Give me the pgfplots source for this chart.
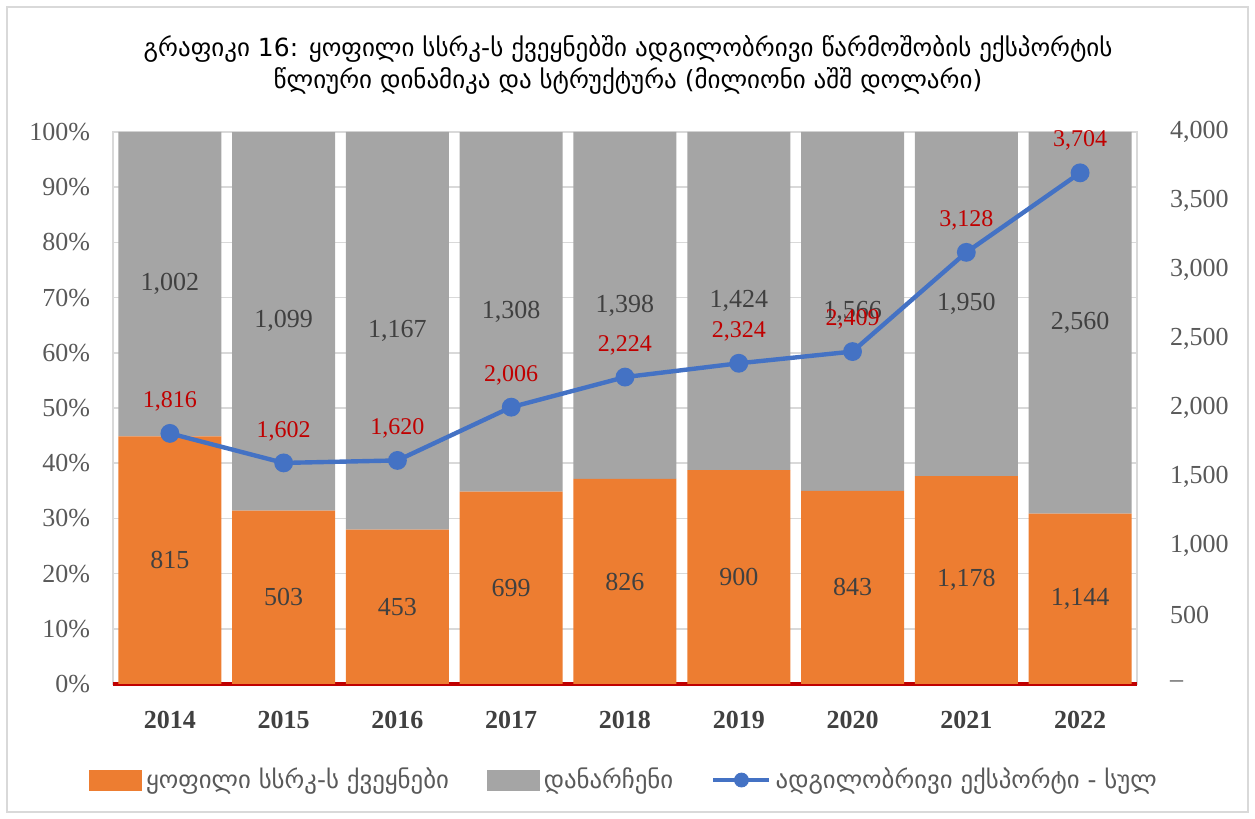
\documentclass[border=0pt]{standalone}
\usepackage{pgfplots}
\pgfplotsset{compat=1.18}
\usepackage{pgfplotstable}
\usepackage{fontspec}
\setmainfont{Liberation Serif}
\newfontfamily\geo{DejaVu Sans}
\definecolor{cOrange}{HTML}{ED7D31}
\definecolor{cGray}{HTML}{A5A5A5}
\definecolor{cBlue}{HTML}{4472C4}
\definecolor{cRed}{HTML}{C00000}
\definecolor{cTxt}{HTML}{595959}
\definecolor{cLbl}{HTML}{404040}
\definecolor{cGrid}{HTML}{D9D9D9}
\pgfplotsset{/pgf/number format/assume math mode=true}

\pgfplotstableread{
x year f o t
0 2014 815 1002 1816
1 2015 503 1099 1602
2 2016 453 1167 1620
3 2017 699 1308 2006
4 2018 826 1398 2224
5 2019 900 1424 2324
6 2020 843 1566 2409
7 2021 1178 1950 3128
8 2022 1144 2560 3704
}\data

\pgfplotsset{common/.style={
  at={(56.5pt,67.5pt)}, anchor=south west, scale only axis,
  width=512pt, height=276pt, xmin=-0.5, xmax=8.5}}

\begin{document}
\begin{tikzpicture}
\path[use as bounding box] (0,0) rectangle (627.5pt,409.5pt);
\draw[cGrid, line width=0.8pt] (3.5pt,3.5pt) rectangle (624pt,406pt);

\begin{axis}[common, ymin=0, ymax=100,
  ybar stacked, bar width=51.5pt,
  ytick={0,10,...,100},
  yticklabel={\pgfmathprintnumber{\tick}\%},
  yticklabel style={font=\fontsize{13}{15}\selectfont, text=cTxt, xshift=-8pt},
  ymajorgrids, grid style={cGrid, line width=0.8pt},
  extra y ticks={0}, extra y tick labels={},
  extra y tick style={grid style={cRed, line width=1.6pt}},
  xtick={0,...,8},
  xticklabels={2014,2015,2016,2017,2018,2019,2020,2021,2022},
  xticklabel style={font=\bfseries\fontsize{13}{15}\selectfont, text=cLbl, yshift=-10pt},
  axis line style={cGrid, line width=0.8pt},
  tick style={draw=none},
]
\addplot[fill=cOrange, draw=none] table[x=x, y expr=\thisrow{f}/(\thisrow{f}+\thisrow{o})*100] {\data};
\addplot[fill=cGray, draw=none] table[x=x, y expr=\thisrow{o}/(\thisrow{f}+\thisrow{o})*100] {\data};
\end{axis}

\begin{axis}[common, ymin=0, ymax=100, hide axis,
  nodes near coords, point meta=explicit,
  every node near coord/.append style={anchor=center, font=\fontsize{13}{15}\selectfont, text=cLbl,
    /pgf/number format/.cd, fixed, 1000 sep={,}},
]
\addplot[draw=none, mark=none] table[x=x, y expr=\thisrow{f}/(\thisrow{f}+\thisrow{o})*50, meta=f] {\data};
\addplot[draw=none, mark=none] table[x=x, y expr=50+\thisrow{f}/(\thisrow{f}+\thisrow{o})*50, meta=o] {\data};
\end{axis}

\begin{axis}[common, ymin=0, ymax=4000,
  axis y line*=right, axis x line=none,
  y axis line style={draw=none},
  ytick={0,500,...,4000},
  yticklabels={--,500,{1,000},{1,500},{2,000},{2,500},{3,000},{3,500},{4,000}},
  yticklabel style={font=\fontsize{13}{15}\selectfont, text=cTxt, anchor=west, xshift=13pt},
  tick style={draw=none},
  legend style={at={(0.5,-0.174)}, anchor=center, legend columns=3, draw=none,
    font=\geo\fontsize{12.4}{15}\selectfont, text=cTxt,
    /tikz/every even column/.append style={column sep=17pt}},
]
\addlegendimage{legend image code/.code={\fill[cOrange] (0pt,-5pt) rectangle (26pt,5pt);}}
\addlegendentry{ყოფილი სსრკ-ს ქვეყნები}
\addlegendimage{legend image code/.code={\fill[cGray] (0pt,-5pt) rectangle (26pt,5pt);}}
\addlegendentry{დანარჩენი}
\addlegendimage{legend image code/.code={\draw[cBlue, line width=2.2pt] (0pt,0pt) -- (28pt,0pt); \fill[cBlue] (14pt,0pt) circle (3.5pt);}}
\addlegendentry{ადგილობრივი ექსპორტი - სულ}
\addplot[forget plot, cBlue, line width=2.2pt, mark=*, mark size=3.6pt, mark options={fill=cBlue},
  nodes near coords, point meta=explicit,
  every node near coord/.append style={anchor=center, yshift=16pt, font=\fontsize{12}{14}\selectfont, text=cRed,
    /pgf/number format/.cd, fixed, 1000 sep={,}}]
  table[x=x, y=t, meta=t] {\data};
\end{axis}

\node[align=center, font=\geo\fontsize{12.5}{16}\selectfont, text=black] at (314pt,377pt)
  {გრაფიკი 16: ყოფილი სსრკ-ს ქვეყნებში ადგილობრივი წარმოშობის ექსპორტის\\
   წლიური დინამიკა და სტრუქტურა (მილიონი აშშ დოლარი)};
\end{tikzpicture}
\end{document}
